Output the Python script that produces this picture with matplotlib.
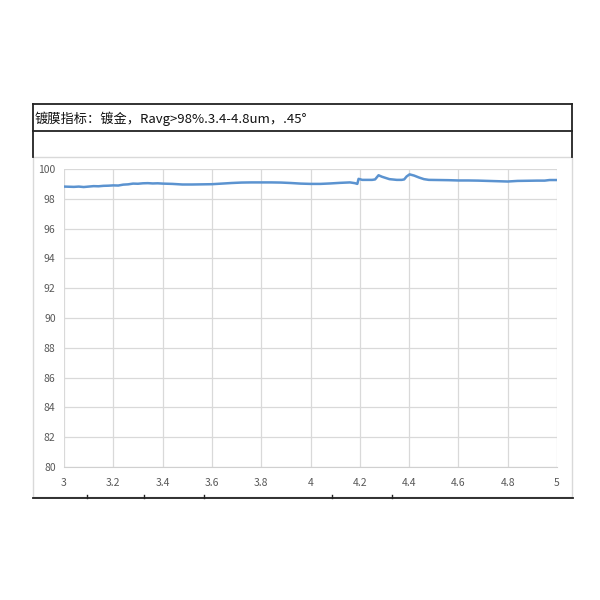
import matplotlib
matplotlib.use("Agg")
import matplotlib.pyplot as plt
from matplotlib.lines import Line2D
from matplotlib.patches import Rectangle

plt.rcParams['font.family'] = ['Noto Sans CJK SC', 'DejaVu Sans']

title_text = "镀膜指标：镀金，Ravg>98%.3.4-4.8um，.45°"

wavelength = [3.00, 3.02, 3.04, 3.06, 3.08, 3.10, 3.12, 3.14, 3.16, 3.18,
              3.20, 3.22, 3.24, 3.26, 3.28, 3.30, 3.32, 3.34, 3.36, 3.38,
              3.40, 3.44, 3.48, 3.52, 3.56, 3.60, 3.64, 3.68, 3.72, 3.76,
              3.80, 3.84, 3.88, 3.92, 3.96, 4.00, 4.04, 4.08, 4.12, 4.16,
              4.18, 4.19, 4.195, 4.21, 4.25, 4.262, 4.276, 4.29, 4.32, 4.35,
              4.37, 4.38, 4.39, 4.402, 4.42, 4.44, 4.46, 4.48, 4.52, 4.56,
              4.60, 4.64, 4.68, 4.72, 4.76, 4.80, 4.84, 4.88, 4.92, 4.95,
              4.97, 5.00]
reflectance = [98.82, 98.81, 98.80, 98.82, 98.79, 98.82, 98.85, 98.84, 98.87, 98.88,
               98.90, 98.89, 98.95, 98.97, 99.02, 99.01, 99.04, 99.05, 99.03, 99.04,
               99.02, 99.00, 98.96, 98.96, 98.97, 98.98, 99.02, 99.06, 99.09, 99.10,
               99.10, 99.10, 99.09, 99.06, 99.02, 99.00, 99.00, 99.03, 99.07, 99.10,
               99.05, 99.00, 99.34, 99.27, 99.27, 99.30, 99.58, 99.48, 99.32, 99.27,
               99.27, 99.30, 99.50, 99.64, 99.56, 99.43, 99.32, 99.27, 99.26, 99.25,
               99.23, 99.23, 99.22, 99.20, 99.18, 99.16, 99.20, 99.21, 99.22, 99.22,
               99.26, 99.26]

x_ticks = [3, 3.2, 3.4, 3.6, 3.8, 4, 4.2, 4.4, 4.6, 4.8, 5]
x_tick_labels = ["3", "3.2", "3.4", "3.6", "3.8", "4", "4.2", "4.4", "4.6", "4.8", "5"]
y_ticks = [80, 82, 84, 86, 88, 90, 92, 94, 96, 98, 100]

W = H = 600
fig = plt.figure(figsize=(6, 6), dpi=100)

def fx(x):
    return x / W

def fy(y):
    return 1 - y / H

# Chart area border (light gray)
fig.add_artist(Rectangle((fx(33), fy(497)), fx(572) - fx(33), fy(157) - fy(497),
                         transform=fig.transFigure, fill=False, edgecolor='#d9d9d9', lw=1))

# Table borders (black)
def hline(y, x0, x1, c='#222222', lw=1.3):
    fig.add_artist(Line2D([fx(x0), fx(x1)], [fy(y), fy(y)], transform=fig.transFigure, color=c, lw=lw))

def vline(x, y0, y1, c='#222222', lw=1.3):
    fig.add_artist(Line2D([fx(x), fx(x)], [fy(y0), fy(y1)], transform=fig.transFigure, color=c, lw=lw))

hline(104, 33, 572)
hline(131, 33, 572)
vline(33, 104, 157)
vline(572, 104, 157)
hline(498, 33, 573)
for tx in [87, 144, 204, 332, 392]:
    vline(tx, 495, 498, lw=1.0)

fig.text(fx(35), fy(119), title_text, fontsize=9.5, color='#111111', va='center', ha='left')

ax = fig.add_axes([fx(64), fy(467), fx(557) - fx(64), fy(169) - fy(467)])
ax.plot(wavelength, reflectance, color='#5b93d0', lw=1.8)
ax.set_xlim(3, 5)
ax.set_ylim(80, 100)
ax.set_xticks(x_ticks)
ax.set_xticklabels(x_tick_labels)
ax.set_yticks(y_ticks)
ax.grid(True, color='#d9d9d9', lw=0.9)
ax.set_axisbelow(True)
for s in ['top', 'right', 'left']:
    ax.spines[s].set_visible(False)
ax.spines['bottom'].set_color('#d0d0d0')
ax.tick_params(length=0, labelsize=7.5, colors='#595959')
ax.tick_params(axis='x', pad=8)
ax.tick_params(axis='y', pad=6)

fig.savefig("out.png", dpi=100)
